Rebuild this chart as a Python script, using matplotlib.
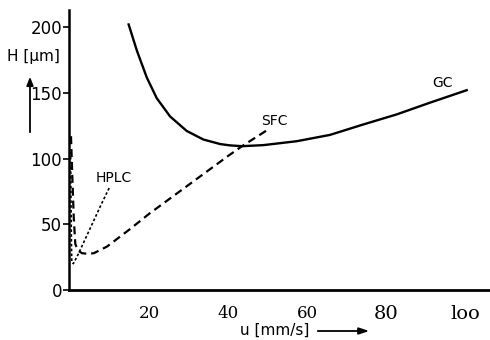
import matplotlib
matplotlib.use("Agg")
from matplotlib import pyplot as plt
from matplotlib.patches import FancyArrowPatch

# GC curve (solid)
gc_u = [14.8, 16.9, 19.4, 21.9, 25.3, 29.5, 33.7, 38, 40.5, 43.5, 48.9,
        57.4, 65.8, 74.3, 82.7, 91.1, 100.4]
gc_h = [202, 182, 161.6, 146, 132, 121, 114.5, 111, 110, 109.4, 110.2,
        113.2, 118, 126, 133.6, 142.5, 152]

# SFC curve (dashed)
sfc_u = [0.2, 0.5, 0.9, 1.3, 2, 3, 4.5, 6, 9.3, 15, 20, 25, 30, 35, 40, 43.5, 50.6]
sfc_h = [117, 90, 55, 35, 30, 28, 27.5, 28, 33, 46, 58, 69, 80, 91, 102, 109.4, 123]

# HPLC curve (dotted)
hplc_u = [0.1, 0.2, 0.3, 0.4, 0.8, 2, 4, 6, 8, 10.1]
hplc_h = [105, 70, 38, 21.6, 20, 27, 40, 53, 66, 79]

y_ticks = [0, 50, 100, 150, 200]
x_ticks = [20, 40, 60, 80, 100]
x_labels = ["20", "40", "60", "80", "loo"]
x_sizes = [12, 12, 12, 14, 14]

fig = plt.figure(figsize=(4.9, 3.4), dpi=100)
ax = fig.add_axes([69 / 490, 50 / 340, 421 / 490, 280 / 340])

ax.plot(gc_u, gc_h, color="black", lw=1.7, solid_joinstyle="round")
ax.plot(sfc_u, sfc_h, color="black", lw=1.6, dashes=(3.6, 2.2))
ax.plot(hplc_u, hplc_h, color="black", lw=1.2, dashes=(1.6, 1.3))

ax.text(94.3, 157.8, "GC", fontsize=10, ha="center", va="center")
ax.text(51.6, 128.5, "SFC", fontsize=10, ha="center", va="center")
ax.text(11, 85.5, "HPLC", fontsize=10, ha="center", va="center")

ax.set_xlim(-0.3, 106.3)
ax.set_ylim(0, 213)

for side in ["top", "right"]:
    ax.spines[side].set_visible(False)
ax.spines["left"].set_linewidth(1.8)
ax.spines["bottom"].set_linewidth(2.0)

ax.set_yticks(y_ticks)
ax.tick_params(axis="y", direction="out", length=4, width=1.2, pad=1, labelsize=12)
ax.set_xticks(x_ticks)
ax.set_xticklabels(x_labels, family="DejaVu Serif")
ax.tick_params(axis="x", length=0, pad=11)
for lab, s in zip(ax.get_xticklabels(), x_sizes):
    lab.set_fontsize(s)

# axis labels with arrows
fig.text(33 / 490, 1 - 57 / 340, "H [µm]", fontsize=11, ha="center", va="center")
fig.add_artist(FancyArrowPatch(
    (30 / 490, 1 - 135 / 340), (30 / 490, 1 - 74 / 340), transform=fig.transFigure,
    arrowstyle="-|>,head_length=5,head_width=2", color="black", lw=1.3))
fig.text(275 / 490, 1 - 330 / 340, "u [mm/s]", fontsize=11, ha="center", va="center")
fig.add_artist(FancyArrowPatch(
    (315 / 490, 1 - 331 / 340), (372 / 490, 1 - 331 / 340), transform=fig.transFigure,
    arrowstyle="-|>,head_length=6,head_width=2", color="black", lw=1.3))

fig.savefig("out.png", dpi=100)
